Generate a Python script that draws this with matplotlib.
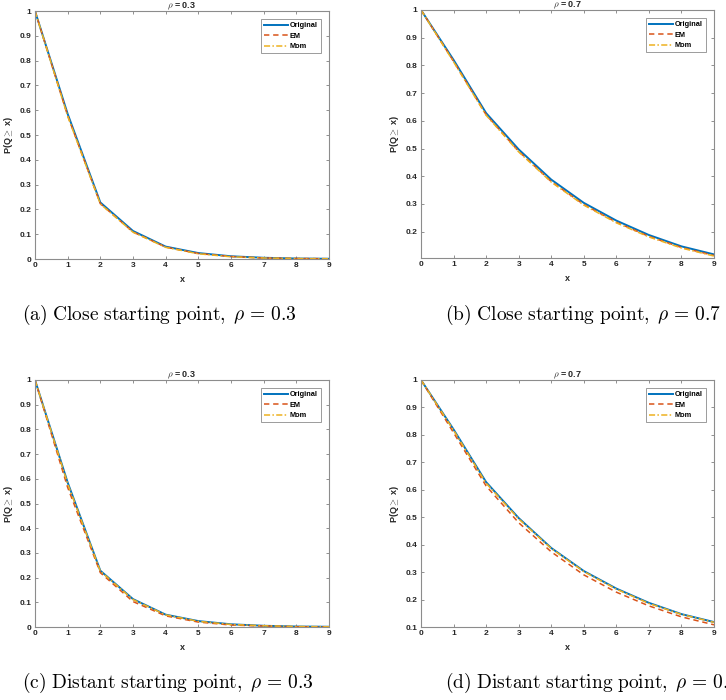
import matplotlib
matplotlib.use("Agg")
import matplotlib.pyplot as plt

plt.rcParams['mathtext.fontset'] = 'cm'
plt.rcParams['font.family'] = ['Liberation Sans', 'DejaVu Sans']

x = [0, 1, 2, 3, 4, 5, 6, 7, 8, 9]

# close starting point
orig_03 = [1.0, 0.585, 0.228, 0.113, 0.050, 0.024, 0.011, 0.005, 0.002, 0.001]
em_close_03 = [1.0, 0.578, 0.223, 0.109, 0.048, 0.022, 0.010, 0.004, 0.002, 0.001]
mom_close_03 = [1.0, 0.576, 0.222, 0.108, 0.047, 0.021, 0.009, 0.004, 0.002, 0.001]

orig_07 = [1.0, 0.820, 0.628, 0.497, 0.388, 0.304, 0.240, 0.188, 0.147, 0.118]
em_close_07 = [1.0, 0.815, 0.622, 0.490, 0.381, 0.298, 0.234, 0.183, 0.143, 0.114]
mom_close_07 = [1.0, 0.813, 0.620, 0.488, 0.379, 0.296, 0.232, 0.181, 0.141, 0.112]

# distant starting point
em_dist_03 = [1.0, 0.565, 0.220, 0.103, 0.045, 0.020, 0.008, 0.004, 0.001, 0.0005]
mom_dist_03 = [1.0, 0.580, 0.226, 0.111, 0.049, 0.023, 0.010, 0.005, 0.002, 0.001]

em_dist_07 = [1.0, 0.808, 0.614, 0.480, 0.374, 0.290, 0.227, 0.177, 0.137, 0.108]
mom_dist_07 = [1.0, 0.817, 0.624, 0.494, 0.386, 0.302, 0.238, 0.186, 0.146, 0.117]

panels = [
    ("0.3", orig_03, em_close_03, mom_close_03, (0, 1), r"$\mathrm{(a)\ Close\ starting\ point,}\;\rho\,=\,0.3$"),
    ("0.7", orig_07, em_close_07, mom_close_07, (0.105, 1), r"$\mathrm{(b)\ Close\ starting\ point,}\;\rho\,=\,0.7$"),
    ("0.3", orig_03, em_dist_03, mom_dist_03, (0, 1), r"$\mathrm{(c)\ Distant\ starting\ point,}\;\rho\,=\,0.3$"),
    ("0.7", orig_07, em_dist_07, mom_dist_07, (0.1, 1), r"$\mathrm{(d)\ Distant\ starting\ point,}\;\rho\,=\,0.7$"),
]

W, H = 726, 700
boxes = [(35, 11, 329, 259), (421, 10, 714, 258), (35, 380, 329, 627), (421, 380, 714, 627)]
cap_pos = [(22, 315), (445, 315), (22, 683), (445, 683)]

fig = plt.figure(figsize=(W / 100, H / 100), dpi=100)

for (rho, orig, em, mom, ylim, cap), (l, t, r, b), (cx, cy) in zip(panels, boxes, cap_pos):
    ax = fig.add_axes([l / W, 1 - b / H, (r - l) / W, (b - t) / H])
    ax.plot(x, orig, color='#0072BD', lw=1.4, label='Original')
    ax.plot(x, em, color='#D95319', lw=1.1, ls=(0, (3.5, 2.5)), label='EM')
    ax.plot(x, mom, color='#EDB120', lw=1.1, ls=(0, (4, 1.5, 1, 1.5)), label='Mom')
    ax.set_xlim(0, 9)
    ax.set_ylim(*ylim)
    ax.set_xticks(range(10))
    yt = [v for v in range(11) if v / 10 >= ylim[0] - 1e-9]
    ax.set_yticks([v / 10 for v in yt])
    ax.set_yticklabels(['0' if v == 0 else ('1' if v == 10 else '%.1f' % (v / 10)) for v in yt])
    ax.tick_params(direction='in', length=2.5, width=0.6, top=True, right=True,
                   labelsize=6, colors='#7f7f7f', labelcolor='#262626', pad=2.5)
    for lab in ax.get_xticklabels() + ax.get_yticklabels():
        lab.set_fontweight('bold')
    for s in ax.spines.values():
        s.set_color('#8c8c8c')
        s.set_linewidth(0.8)
    ax.set_title(r"$\rho$ = " + rho, fontsize=6.5, fontweight='bold', pad=2, color='#262626')
    ax.set_xlabel('x', fontsize=6.5, fontweight='bold', labelpad=4, color='#262626')
    ax.set_ylabel(r"P(Q$\geq$ x)", fontsize=6.5, fontweight='bold', labelpad=3, color='#262626')
    leg = ax.legend(loc='upper right', prop={'weight': 'bold', 'size': 5.3},
                    fancybox=False, framealpha=1, edgecolor='#8c8c8c',
                    handlelength=3.2, handletextpad=0.3, borderpad=0.4, labelspacing=0.45,
                    borderaxespad=1.1)
    leg.get_frame().set_linewidth(0.6)
    fig.text(cx / W, 1 - cy / H, cap, fontsize=14, ha='left', va='center')

fig.savefig('out.png', dpi=100)
